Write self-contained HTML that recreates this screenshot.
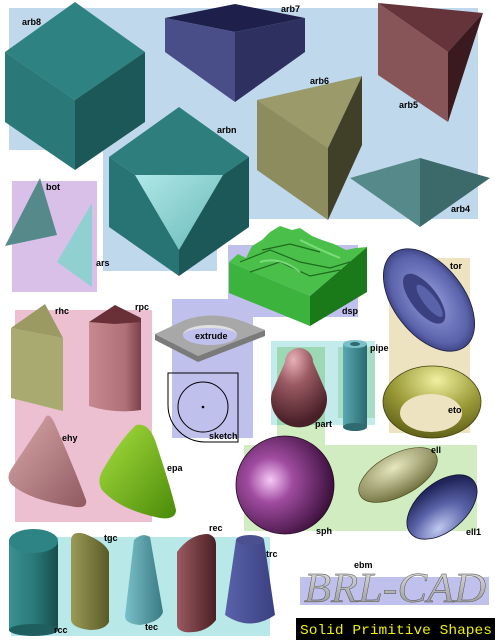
<!DOCTYPE html>
<html><head><meta charset="utf-8"><style>
html,body{margin:0;padding:0;background:#fff;width:495px;height:640px;overflow:hidden}
svg{display:block}
.l{font-family:"Liberation Sans",sans-serif;font-weight:bold;font-size:9px;fill:#000}
</style></head><body>
<svg width="495" height="640" viewBox="0 0 495 640">
<defs>
<radialGradient id="gs" cx="0.35" cy="0.45" r="0.65"><stop offset="0" stop-color="#f8c8f8"/><stop offset="0.35" stop-color="#a04ca0"/><stop offset="1" stop-color="#3c103c"/></radialGradient>
<radialGradient id="gpart" cx="0.4" cy="0.15" r="0.8"><stop offset="0" stop-color="#e8b0b8"/><stop offset="0.4" stop-color="#9a5a62"/><stop offset="1" stop-color="#4a2028"/></radialGradient>
<linearGradient id="gtri" x1="0" y1="0" x2="1" y2="1"><stop offset="0" stop-color="#b0e8e8"/><stop offset="1" stop-color="#68b8b8"/></linearGradient>
<radialGradient id="gell" cx="0.5" cy="0.3" r="0.7"><stop offset="0" stop-color="#e8e8c0"/><stop offset="1" stop-color="#707040"/></radialGradient>
<radialGradient id="gell1" cx="0.3" cy="0.8" r="0.8"><stop offset="0" stop-color="#c0c8f0"/><stop offset="0.5" stop-color="#5a62a8"/><stop offset="1" stop-color="#202458"/></radialGradient>
<radialGradient id="gtor" cx="0.5" cy="0.5" r="0.6"><stop offset="0" stop-color="#9aa0e0"/><stop offset="0.7" stop-color="#5a62aa"/><stop offset="1" stop-color="#20245a"/></radialGradient>
<radialGradient id="geto" cx="0.55" cy="0.2" r="0.9"><stop offset="0" stop-color="#f0f0a0"/><stop offset="0.5" stop-color="#9a9a38"/><stop offset="1" stop-color="#505010"/></radialGradient>
<linearGradient id="gcyl" x1="0" x2="1"><stop offset="0" stop-color="#3a9090"/><stop offset="0.5" stop-color="#2a7a7a"/><stop offset="1" stop-color="#184c4c"/></linearGradient>
<linearGradient id="gtgc" x1="0" x2="1"><stop offset="0" stop-color="#9a9a58"/><stop offset="1" stop-color="#5a5a28"/></linearGradient>
<linearGradient id="gtec" x1="0" x2="1"><stop offset="0" stop-color="#7ac0c8"/><stop offset="1" stop-color="#3a7a84"/></linearGradient>
<linearGradient id="grec" x1="0" x2="1"><stop offset="0" stop-color="#9a5a60"/><stop offset="1" stop-color="#4a2024"/></linearGradient>
<linearGradient id="gtrc" x1="0" x2="1"><stop offset="0" stop-color="#5a62aa"/><stop offset="1" stop-color="#3a4080"/></linearGradient>
<linearGradient id="grpc" x1="0" x2="1"><stop offset="0" stop-color="#c88890"/><stop offset="0.7" stop-color="#b07078"/><stop offset="1" stop-color="#7a4048"/></linearGradient>
<linearGradient id="gehy" x1="0" y1="0" x2="1" y2="1"><stop offset="0" stop-color="#d8a8aa"/><stop offset="1" stop-color="#905a60"/></linearGradient>
<linearGradient id="gepa" x1="0" y1="0" x2="1" y2="1"><stop offset="0" stop-color="#a8e040"/><stop offset="1" stop-color="#4a8a08"/></linearGradient>
<linearGradient id="gpipe" x1="0" x2="1"><stop offset="0" stop-color="#5aa8b0"/><stop offset="1" stop-color="#2a6a70"/></linearGradient>
<linearGradient id="gbrl" x1="0" y1="0" x2="0" y2="1"><stop offset="0" stop-color="#e0e0e0"/><stop offset="1" stop-color="#909090"/></linearGradient>
</defs>

<polygon points="9,8 478,8 478,219 217,219 217,271 103,271 103,150 9,150" fill="#c0d8ec"/>
<rect x="12" y="181" width="85" height="111" fill="#d8c0e8"/>
<rect x="228" y="245" width="130" height="72" fill="#c0c0ec"/>
<rect x="172" y="299" width="81" height="139" fill="#c0c0ec"/>
<rect x="389" y="258" width="81" height="175" fill="#ede3c0"/>
<rect x="15" y="310" width="137" height="212" fill="#ecc0d0"/>
<rect x="244" y="445" width="233" height="86" fill="#d0ecc0"/>
<rect x="277" y="347" width="48" height="98" fill="#d0ecc0"/>
<rect x="271" y="341" width="104" height="84" fill="#b8e8e8" opacity="0.85"/>
<rect x="277" y="347" width="48" height="78" fill="#9cd8b4"/>
<rect x="338" y="347" width="37" height="71" fill="#a8dcc4"/>
<rect x="11" y="537" width="259" height="99" fill="#b8e8e8"/>

<g>
<polygon points="75,2 145,52 75,100 5,52" fill="#2e8282"/>
<polygon points="5,52 75,100 75,170 5,122" fill="#2a7878"/>
<polygon points="145,52 75,100 75,170 145,122" fill="#1c5858"/>
</g>
<g>
<polygon points="165,18 235,4 305,18 235,32" fill="#1e1f4a"/>
<polygon points="165,18 235,32 235,102 165,52" fill="#4a4e88"/>
<polygon points="235,32 305,18 305,52 235,102" fill="#2e3060"/>
</g>
<g>
<polygon points="378,3 483,13 448,52" fill="#64343a"/>
<polygon points="378,3 448,52 448,122 378,75" fill="#875458"/>
<polygon points="483,13 448,52 448,122" fill="#3a1a1e"/>
</g>
<g>
<polygon points="257,100 362,76 328,148" fill="#9a9a6a"/>
<polygon points="257,100 328,148 328,220 257,170" fill="#8c8c5e"/>
<polygon points="362,76 362,145 328,220 328,148" fill="#404028"/>
</g>
<g>
<polygon points="350,178 420,158 420,227" fill="#568a8a"/>
<polygon points="420,158 490,178 420,227" fill="#3c6a6a"/>
</g>
<g>
<polygon points="179,107 249,157 179,205 109,157" fill="#2e7e7e"/>
<polygon points="109,157 179,205 179,276 109,227" fill="#287474"/>
<polygon points="249,157 179,205 179,276 249,227" fill="#1c5858"/>
<polygon points="135,175 223,175 179,250" fill="url(#gtri)"/>
</g>
<polygon points="40,178 5,246 57,235" fill="#568a8a"/>
<polygon points="92,203 57,262 92,287" fill="#90d0d0"/>

<g>
<polygon points="229,262 229,293 310,326 310,296" fill="#3cb33c"/>
<polygon points="310,296 310,326 367,292 367,247" fill="#1a7a1a"/>
<path d="M229,262 L238,254 246,258 252,246 262,240 270,232 280,226 292,230 300,228 312,236 322,240 334,244 346,250 356,248 367,247 L310,296 Z" fill="#4ac04a"/>
<path d="M240,262 L270,250 300,262 330,268 350,262 M250,272 L280,262 310,276 340,270 M262,250 L290,244 320,252" stroke="#1e6a1e" stroke-width="1.2" fill="none"/>
<path d="M260,262 Q280,256 300,272 M300,240 Q320,250 340,258" stroke="#90e890" stroke-width="2" fill="none" opacity="0.7"/>
</g>

<g transform="rotate(-38 429 300)">
<ellipse cx="429" cy="300" rx="35" ry="59" fill="url(#gtor)" stroke="#1a1a40" stroke-width="0.8"/>
<ellipse cx="426" cy="296" rx="13" ry="30" fill="#3a4080"/>
<ellipse cx="429" cy="301" rx="6" ry="20" fill="#5a62aa"/>
</g>
<g>
<ellipse cx="432" cy="402" rx="49" ry="36" fill="url(#geto)" stroke="#404010" stroke-width="0.8"/>
<ellipse cx="431" cy="413" rx="31" ry="19" fill="#ede3c0"/>
</g>

<g>
<polygon points="155,340 198,362 265,336 265,330 198,356 155,334" fill="#7a7a7a"/>
<path d="M155,334 L185,320 Q215,310 245,322 L265,330 L198,356 Z" fill="#a8a8a8"/>
<ellipse cx="210" cy="335" rx="27" ry="10" fill="#c0c0ec"/>
<path d="M183,335 A27,10 0 0 1 237,335 A27,7 0 0 0 183,335 Z" fill="#e0e0e0"/>
</g>
<g fill="none" stroke="#000" stroke-width="1">
<path d="M168,373 L238,373 L238,442 L205,442 A37,37 0 0 1 168,405 Z"/>
<circle cx="203" cy="407" r="25"/>
<circle cx="203" cy="407" r="0.8" fill="#000"/>
</g>

<path d="M285,362 A14,14 0 0 1 313,362 L326,392 A28,28 0 1 1 272,392 Z" fill="url(#gpart)"/>
<g>
<rect x="343" y="344" width="24" height="83" fill="url(#gpipe)"/>
<ellipse cx="355" cy="427" rx="12" ry="4" fill="#2e6a70"/>
<ellipse cx="355" cy="344" rx="12" ry="4" fill="#7ac0c8"/>
<ellipse cx="355" cy="344" rx="5" ry="2" fill="#2e6a70"/>
</g>

<circle cx="285" cy="485" r="49" fill="url(#gs)" stroke="#200820" stroke-width="0.8"/>
<ellipse cx="398" cy="475" rx="43" ry="21" transform="rotate(-28 398 475)" fill="url(#gell)" stroke="#404010" stroke-width="0.6"/>
<ellipse cx="442" cy="507" rx="41" ry="24" transform="rotate(-40 442 507)" fill="url(#gell1)" stroke="#101030" stroke-width="0.8"/>

<g>
<polygon points="11,328 45,304 63,338" fill="#9a9a62"/>
<polygon points="11,328 63,338 63,411 11,398" fill="#a8aa70"/>
</g>
<g>
<path d="M89,322 L89,406 Q115,414 141,410 L141,320 Z" fill="url(#grpc)"/>
<polygon points="89,322 115,305 141,318 141,322 115,324" fill="#6a3038"/>
</g>
<path d="M44,420 Q48,410 54,422 Q75,470 86,500 Q88,510 70,506 Q30,500 12,485 Q5,478 12,468 Z" fill="url(#gehy)"/>
<path d="M136,425 Q148,422 155,440 Q170,485 176,510 Q176,520 160,518 Q120,510 102,490 Q96,480 104,468 Q120,440 136,425 Z" fill="url(#gepa)"/>

<g>
<rect x="9" y="541" width="49" height="89" fill="url(#gcyl)"/>
<ellipse cx="33.5" cy="630" rx="24.5" ry="6" fill="#1e5e5e"/>
<ellipse cx="33.5" cy="541" rx="24.5" ry="12" fill="#2e8484"/>
</g>
<path d="M71,540 Q72,530 85,534 Q105,542 109,552 L109,622 Q105,630 90,630 Q72,628 71,620 Z" fill="url(#gtgc)"/>
<path d="M134,540 Q142,532 150,537 L163,612 Q160,622 140,625 Q125,624 125,616 Z" fill="url(#gtec)"/>
<path d="M177,552 Q190,534 208,534 Q216,536 216,545 L216,620 Q205,634 185,632 Q177,630 177,625 Z" fill="url(#grec)"/>
<g>
<path d="M236,540 L264,540 L275,615 Q250,632 225,615 Z" fill="url(#gtrc)"/>
<ellipse cx="250" cy="540" rx="14" ry="5" fill="#4a5090"/>
</g>

<rect x="300" y="577" width="189" height="28" fill="#c0c0ec"/>
<text x="395" y="602" text-anchor="middle" font-family="Liberation Serif,serif" font-style="italic" font-size="42" fill="url(#gbrl)" stroke="#444" stroke-width="0.4" textLength="182" lengthAdjust="spacingAndGlyphs">BRL-CAD</text>
<rect x="296" y="618" width="199" height="22" fill="#000"/>
<text x="300" y="634" font-family="Liberation Mono,monospace" font-size="14" fill="#f0f000" textLength="192" lengthAdjust="spacingAndGlyphs">Solid Primitive Shapes</text>

<g>
<text class="l" x="22" y="25">arb8</text>
<text class="l" x="281" y="12">arb7</text>
<text class="l" x="399" y="108">arb5</text>
<text class="l" x="310" y="84">arb6</text>
<text class="l" x="217" y="133">arbn</text>
<text class="l" x="451" y="212">arb4</text>
<text class="l" x="46" y="190">bot</text>
<text class="l" x="96" y="266">ars</text>
<text class="l" x="342" y="314">dsp</text>
<text class="l" x="450" y="269">tor</text>
<text class="l" x="55" y="314">rhc</text>
<text class="l" x="135" y="310">rpc</text>
<text class="l" x="195" y="339">extrude</text>
<text class="l" x="370" y="351">pipe</text>
<text class="l" x="448" y="413">eto</text>
<text class="l" x="315" y="427">part</text>
<text class="l" x="209" y="439">sketch</text>
<text class="l" x="62" y="441">ehy</text>
<text class="l" x="167" y="471">epa</text>
<text class="l" x="431" y="453">ell</text>
<text class="l" x="316" y="534">sph</text>
<text class="l" x="466" y="535">ell1</text>
<text class="l" x="209" y="531">rec</text>
<text class="l" x="104" y="541">tgc</text>
<text class="l" x="266" y="557">trc</text>
<text class="l" x="54" y="633">rcc</text>
<text class="l" x="145" y="630">tec</text>
<text class="l" x="354" y="568">ebm</text>
</g>
</svg>
</body></html>
